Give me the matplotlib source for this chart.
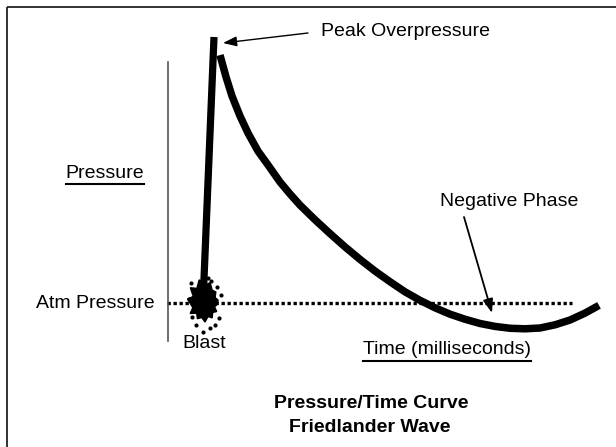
import matplotlib
matplotlib.use("Agg")
import numpy as np
from matplotlib import pyplot as plt
from matplotlib.patches import Polygon, Rectangle

plt.rcParams['font.family'] = ['Liberation Sans', 'DejaVu Sans']

# Friedlander wave (time in ms, pressure relative to peak)
rise_t = [0.0, 2.75]
rise_p = [0.0, 1.0]
decay_t = [4.25, 5.75, 7.25, 9.25, 11.25, 13.75, 16.25, 19.25, 21.75, 24.25,
           28.0, 31.75, 35.5, 39.25, 43.0, 46.75, 50.5, 54.25, 58.0, 61.75,
           65.5, 69.25, 73.0, 76.75, 80.5, 84.25, 88.0, 91.75, 95.5, 99.0]
decay_p = [0.932, 0.850, 0.778, 0.703, 0.639, 0.571, 0.519, 0.455, 0.410, 0.368,
           0.313, 0.261, 0.211, 0.164, 0.120, 0.080, 0.042, 0.010, -0.018, -0.042,
           -0.061, -0.077, -0.088, -0.095, -0.097, -0.094, -0.082, -0.064, -0.038,
           -0.009]
atm_t = [-9.0, 92.25]
atm_p = [0.0, 0.0]

# outline of the blast mark: radius (px) every 15 degrees, plus loose droplets
splat_r = [14, 11, 15, 12, 16, 13, 18, 14, 17, 13, 19, 14,
           16, 20, 15, 23, 18, 25, 19, 22, 16, 17, 13, 15]
drop_dx = [-14, 6, 16, 14, -13, -9, -2, 5, 10, -16, 12, 3]
drop_dy = [-21, -23, -9, 14, 13, 21, 28, 24, 21, -5, -17, -26]

W, H = 616, 447
fig = plt.figure(figsize=(W / 100, H / 100), dpi=100)

# data axes: blast at pixel (203, 303), peak at pixel y 37, 4 px per ms
ax = fig.add_axes([0, 0, 1, 1])
ax.set_xlim((0 - 203) / 4, (W - 203) / 4)
ax.set_ylim((303 - H) / 266, (303 - 0) / 266)
ax.axis('off')

ax.plot(atm_t, atm_p, color='k', lw=2.4, linestyle=(0, (1, 0.8)), zorder=2)
ax.plot(rise_t, rise_p, color='k', lw=5.2, solid_capstyle='butt', zorder=3)
ax.plot(decay_t, decay_p, color='k', lw=5.4, solid_capstyle='butt',
        solid_joinstyle='round', zorder=3)

# overlay axes in pixel units for labels and decorations
ann = fig.add_axes([0, 0, 1, 1], facecolor='none')
ann.set_xlim(0, W)
ann.set_ylim(H, 0)
ann.axis('off')

ann.add_patch(Rectangle((7, 7), 700, 500, fill=False, edgecolor='#222222', lw=1.3))
ann.plot([168, 168], [62, 341], color='#555555', lw=1.2)

ang = np.deg2rad(np.arange(0, 360, 15))
r = np.array(splat_r)
blob = np.column_stack([205 + 0.9 * r * np.cos(ang), 304 + r * np.sin(ang)])
ann.add_patch(Polygon(blob, closed=True, color='k', zorder=4))
ann.scatter([205 + d for d in drop_dx], [304 + d for d in drop_dy],
            s=9, color='k', zorder=4, linewidths=0)

fs = 14
ann.annotate('', xy=(223, 43), xytext=(308, 33),
             arrowprops=dict(arrowstyle='-|>,head_length=0.55,head_width=0.2',
                             color='k', lw=1, mutation_scale=15,
                             shrinkA=0, shrinkB=0))
ann.annotate('', xy=(492, 313), xytext=(464, 217),
             arrowprops=dict(arrowstyle='-|>,head_length=0.55,head_width=0.2',
                             color='k', lw=1.3, mutation_scale=15,
                             shrinkA=0, shrinkB=0), zorder=5)

ann.text(321, 32, 'Peak Overpressure', fontsize=fs, ha='left', va='center')
t_press = ann.text(105, 173, 'Pressure', fontsize=fs, ha='center', va='center')
ann.text(155, 303, 'Atm Pressure', fontsize=fs, ha='right', va='center')
ann.text(204, 344, 'Blast', fontsize=fs, ha='center', va='center')
ann.text(509, 202, 'Negative Phase', fontsize=fs, ha='center', va='center')
t_time = ann.text(447, 350, 'Time (milliseconds)', fontsize=fs, ha='center', va='center')
ann.text(371, 404, 'Pressure/Time Curve', fontsize=fs, fontweight='bold',
         ha='center', va='center')
ann.text(370, 427, 'Friedlander Wave', fontsize=fs, fontweight='bold',
         ha='center', va='center')

# underline the axis labels using their rendered extents
fig.canvas.draw()
inv = ann.transData.inverted()
for t in (t_press, t_time):
    bb = t.get_window_extent()
    (x0, y0), (x1, _) = inv.transform([(bb.x0, bb.y0 - 2), (bb.x1, bb.y0 - 2)])
    ann.plot([x0, x1], [y0, y0], color='k', lw=1.5)

fig.savefig('out.png', dpi=100)
